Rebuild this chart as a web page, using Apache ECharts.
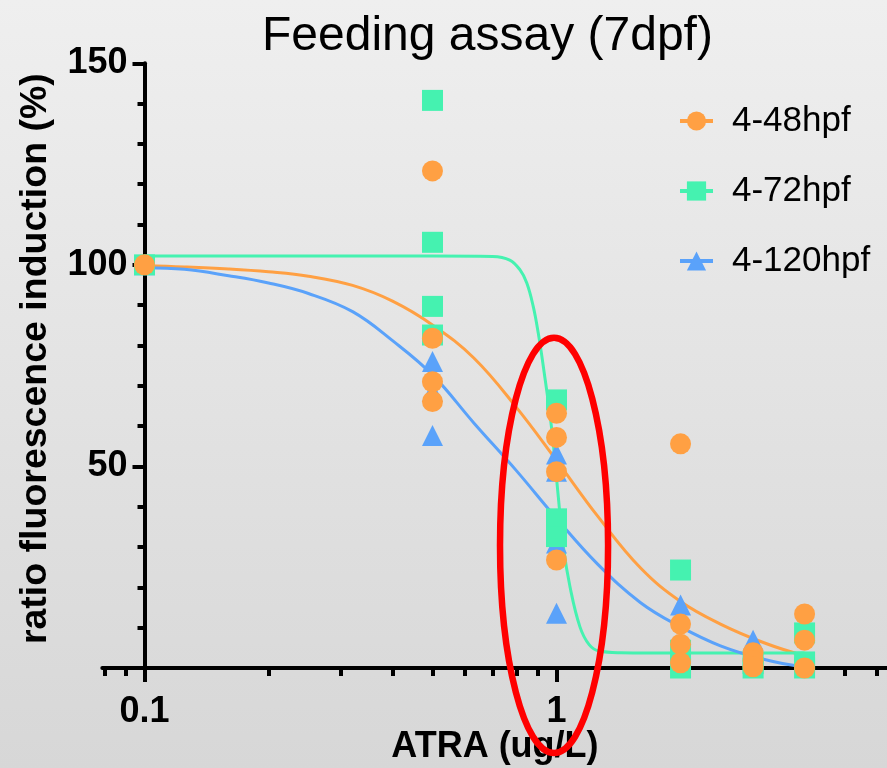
<!DOCTYPE html>
<html>
<head>
<meta charset="utf-8">
<script src="https://cdn.jsdelivr.net/npm/echarts@6/dist/echarts.min.js"></script>
<style>
  html, body { margin: 0; padding: 0; }
  #chart { width: 887px; height: 768px; background: linear-gradient(to bottom, #efefef, #d7d7d7); }
</style>
</head>
<body>
<div id="chart"></div>
<script>
// Series names and tick values
const seriesNames = ['4-48hpf', '4-72hpf', '4-120hpf'];
const xMajorTicks = [0.1, 1];
const xMinorTicks = [0.08, 0.09, 0.2, 0.3, 0.4, 0.5, 0.6, 0.7, 0.8, 0.9, 2, 3, 4, 5, 6, 7, 8];

// Measured replicates [ATRA ug/L, ratio %]
const points48 = [
  [0.1, 100], [0.5, 123.3], [0.5, 81.8], [0.5, 71.0], [0.5, 66.1],
  [1, 63.2], [1, 57.2], [1, 48.7], [1, 26.8],
  [2, 55.6], [2, 10.9], [2, 5.9], [2, 1.3],
  [3, 3.8], [3, 1.8], [3, 0.3],
  [4, 13.4], [4, 6.9], [4, 0]
];
const points72 = [
  [0.1, 100], [0.5, 140.8], [0.5, 105.6], [0.5, 89.7], [0.5, 82.6],
  [1, 66.5], [1, 37], [1, 35], [1, 32.6],
  [2, 24.3], [2, 4.4], [2, 0],
  [3, 1.1], [3, 0],
  [4, 8.7], [4, 1.5], [4, 0]
];
const points120 = [
  [0.1, 100], [0.5, 76.0], [0.5, 68.6], [0.5, 57.7],
  [1, 53.1], [1, 48.8], [1, 31.0], [1, 13.6],
  [2, 15.6], [3, 6.9]
];

// Fitted dose-response curves
const fit48 = [
  [0.1, 99.8], [0.125, 99.5], [0.16, 99.0], [0.2, 98.3], [0.25, 97.2], [0.32, 94.9],
  [0.4, 91.0], [0.5, 85.1], [0.63, 76.9], [0.8, 64.6], [1, 51.5], [1.26, 37.6],
  [1.6, 24.8], [2, 16.5], [2.5, 10.9], [3.2, 6.2], [4, 3.0]
];
const fit72 = [
  [0.1, 102.2], [0.3, 102.2], [0.5, 102.2], [0.7, 102.1], [0.77, 101.2], [0.815, 98.8],
  [0.847, 95.5], [0.878, 89.7], [0.903, 83.1], [0.929, 74.8], [0.974, 59.1],
  [1.01, 42.5], [1.039, 30.1], [1.078, 20.2], [1.14, 10.2], [1.2, 5.8], [1.27, 4.2],
  [1.43, 3.8], [2, 3.7], [3, 3.7], [4, 3.7]
];
const fit120 = [
  [0.1, 99.3], [0.125, 98.9], [0.16, 97.3], [0.2, 95.5], [0.25, 92.9], [0.32, 88.4],
  [0.4, 81.2], [0.5, 72.7], [0.63, 60.8], [0.8, 48.9], [1, 37.1], [1.26, 25.7],
  [1.6, 16.2], [2, 10.2], [2.5, 5.5], [3.2, 2.1], [4, 0.2]
];

// Highlighted dose window (x range, y range)
const focusX = [0.7293, 1.334];
const focusY = [-21.1, 81.9];

const colors = ['#FFA043', '#45F2B0', '#5AA2FA'];
const symbols = ['circle', 'rect', 'triangle'];
const font = 'Liberation Sans, Arial, sans-serif';

const chart = echarts.init(document.getElementById('chart'), null, { renderer: 'canvas' });

const fits = [fit48, fit72, fit120];
const pts = [points48, points72, points120];
const scatterZ = [5, 4, 3];

const series = [];
seriesNames.forEach((name, i) => {
  series.push({
    name: name,
    type: 'line',
    data: fits[i],
    smooth: 0.4,
    showSymbol: false,
    symbol: symbols[i],
    symbolSize: 21,
    itemStyle: { color: colors[i] },
    lineStyle: { color: colors[i], width: 3 },
    z: 2,
    silent: true
  });
});
seriesNames.forEach((name, i) => {
  series.push({
    name: name,
    type: 'scatter',
    data: pts[i],
    symbol: symbols[i],
    symbolSize: 21,
    itemStyle: { color: colors[i], opacity: 1 },
    z: scatterZ[i],
    silent: true
  });
});

const axisBlack = { color: '#000', width: 4 };

chart.setOption({
  animation: false,
  backgroundColor: 'transparent',
  title: {
    text: 'Feeding assay (7dpf)',
    left: 262,
    top: 13,
    padding: 0,
    textStyle: { fontSize: 48, fontWeight: 'normal', color: '#000', fontFamily: font }
  },
  legend: {
    orient: 'vertical',
    left: 678,
    top: 101,
    padding: 0,
    itemWidth: 33,
    itemHeight: 24,
    itemGap: 30,
    data: seriesNames,
    lineStyle: { width: 4 },
    textStyle: { fontSize: 35, color: '#000', fontFamily: font, lineHeight: 40, padding: [0, 0, 0, 14] }
  },
  grid: { left: 102.3, width: 826.3, top: 63.3, height: 604.7, outerBoundsMode: 'none', containLabel: false },
  xAxis: [
    {
      type: 'log',
      logBase: 10,
      min: 0.079,
      max: 8,
      position: 'bottom',
      axisLine: { show: true, lineStyle: axisBlack },
      axisTick: { show: true, customValues: xMajorTicks, length: 14, lineStyle: axisBlack },
      axisLabel: {
        show: true, customValues: xMajorTicks, margin: 26,
        fontSize: 36, fontWeight: 'bold', color: '#000', fontFamily: font,
        formatter: v => String(v)
      },
      splitLine: { show: false },
      minorTick: { show: false },
      name: 'ATRA (ug/L)',
      nameLocation: 'middle',
      nameGap: 61,
      nameMoveOverlap: false,
      nameTextStyle: { fontSize: 36, fontWeight: 'bold', color: '#000', fontFamily: font, padding: [0, 41, 0, 0] }
    },
    {
      type: 'log',
      logBase: 10,
      min: 0.079,
      max: 8,
      position: 'bottom',
      axisLine: { show: false },
      axisTick: { show: true, customValues: xMinorTicks, length: 8, lineStyle: axisBlack },
      axisLabel: { show: false },
      splitLine: { show: false }
    }
  ],
  yAxis: {
    type: 'value',
    min: 0,
    max: 150,
    interval: 50,
    offset: -42.2,
    axisLine: { show: true, onZero: false, lineStyle: axisBlack },
    axisTick: { show: true, length: 12, lineStyle: axisBlack },
    minorTick: { show: true, splitNumber: 5, length: 7, lineStyle: axisBlack },
    axisLabel: {
      margin: 17, fontSize: 36, fontWeight: 'bold', color: '#000', fontFamily: font,
      formatter: v => (v === 0 ? '' : String(v))
    },
    splitLine: { show: false },
    name: 'ratio fluorescence induction (%)',
    nameLocation: 'middle',
    nameRotate: 90,
    nameGap: 90,
    nameMoveOverlap: false,
    nameTextStyle: { fontSize: 37.5, fontWeight: 'bold', color: '#000', fontFamily: font, padding: [0, 0, 0, 14] }
  },
  series: series
});

// Red ellipse around the steep part of the curves
const pA = chart.convertToPixel({ seriesIndex: 0 }, [focusX[0], focusY[1]]);
const pB = chart.convertToPixel({ seriesIndex: 0 }, [focusX[1], focusY[0]]);
chart.setOption({
  graphic: [{
    type: 'ellipse',
    silent: true,
    z: 100,
    shape: {
      cx: (pA[0] + pB[0]) / 2,
      cy: (pA[1] + pB[1]) / 2,
      rx: Math.abs(pB[0] - pA[0]) / 2,
      ry: Math.abs(pB[1] - pA[1]) / 2
    },
    style: { fill: 'none', stroke: '#ff0000', lineWidth: 6.5 }
  }]
});
</script>
</body>
</html>
